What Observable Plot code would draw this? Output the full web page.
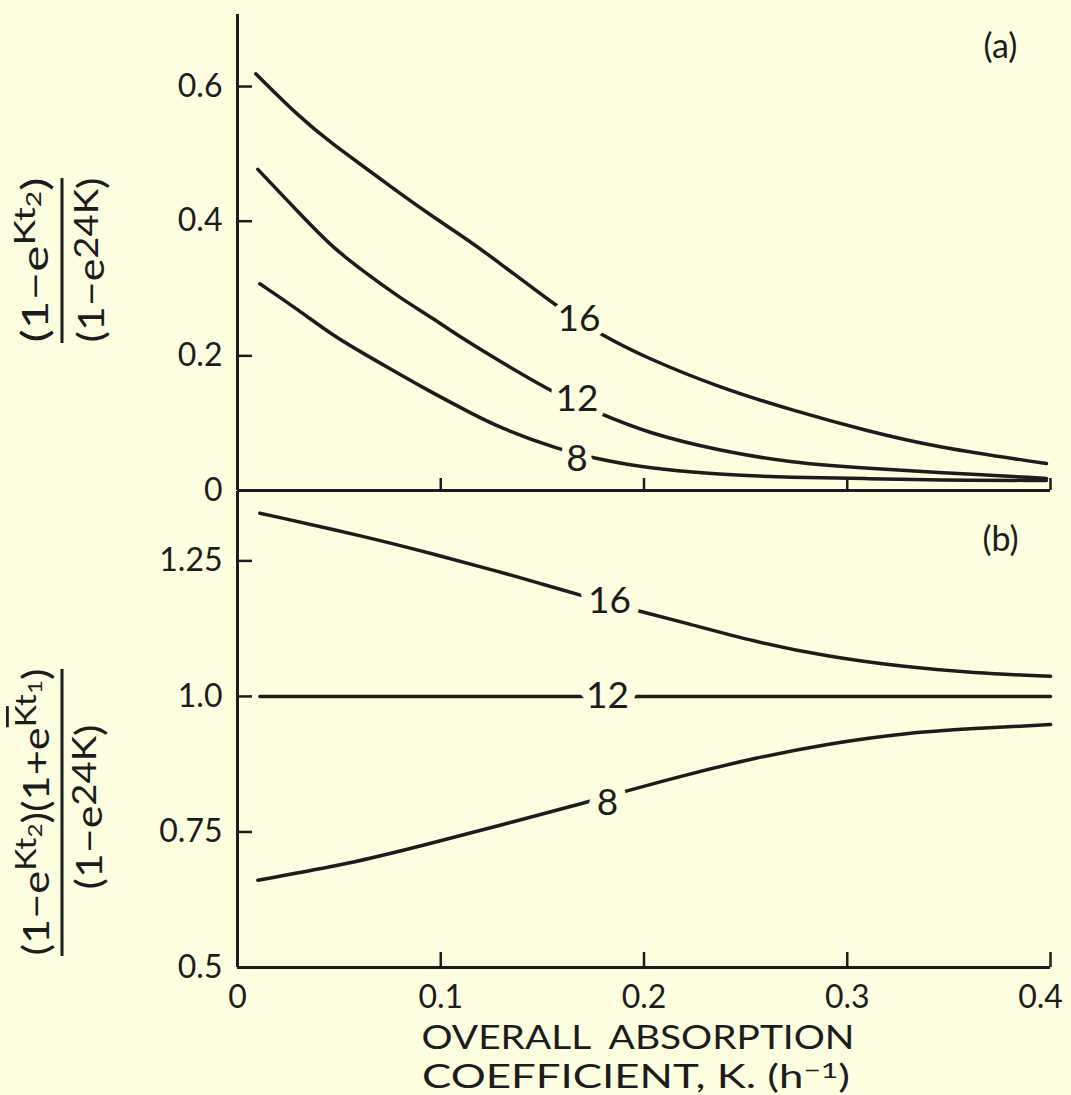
<!DOCTYPE html>
<html>
<head>
<meta charset="utf-8">
<script src="https://cdn.jsdelivr.net/npm/d3@7"></script>
<script src="https://cdn.jsdelivr.net/npm/@observablehq/plot@0.6"></script>
<style>
  html, body { margin: 0; padding: 0; background: #fdfddf; }
  #chart { position: relative; width: 1071px; height: 1095px; background: #fdfddf; overflow: hidden; }
  #chart svg { position: absolute; left: 0; }
</style>
</head>
<body>
<div id="chart"></div>
<script>
// ---------- data ----------
const seriesT = [16, 12, 8];
// panel (a)
const kA16 = [0.009, 0.031, 0.047, 0.064, 0.080, 0.096, 0.113, 0.129, 0.158, 0.178, 0.201, 0.237, 0.273, 0.309, 0.344, 0.398];
const vA16 = [0.619, 0.553, 0.514, 0.477, 0.441, 0.407, 0.373, 0.338, 0.271, 0.233, 0.197, 0.153, 0.119, 0.089, 0.064, 0.040];
const kA12 = [0.010, 0.031, 0.047, 0.064, 0.080, 0.096, 0.110, 0.129, 0.158, 0.177, 0.201, 0.237, 0.273, 0.309, 0.344, 0.398];
const vA12 = [0.477, 0.410, 0.360, 0.321, 0.286, 0.256, 0.227, 0.192, 0.141, 0.116, 0.086, 0.059, 0.041, 0.033, 0.027, 0.018];
const kA8  = [0.011, 0.031, 0.047, 0.064, 0.080, 0.096, 0.113, 0.129, 0.158, 0.174, 0.201, 0.237, 0.273, 0.309, 0.344, 0.398];
const vA8  = [0.307, 0.266, 0.230, 0.200, 0.172, 0.145, 0.118, 0.093, 0.061, 0.049, 0.033, 0.024, 0.019, 0.018, 0.015, 0.015];
// panel (b)
const kB16 = [0.011, 0.064, 0.096, 0.129, 0.150, 0.172, 0.195, 0.219, 0.255, 0.291, 0.327, 0.362, 0.400];
const vB16 = [1.338, 1.294, 1.263, 1.230, 1.207, 1.183, 1.160, 1.137, 1.100, 1.073, 1.055, 1.043, 1.037];
const kB12 = [0.011, 0.100, 0.200, 0.300, 0.400];
const vB12 = [1.000, 1.000, 1.000, 1.000, 1.000];
const kB8  = [0.010, 0.056, 0.090, 0.129, 0.175, 0.187, 0.219, 0.255, 0.291, 0.327, 0.362, 0.400];
const vB8  = [0.661, 0.692, 0.724, 0.762, 0.808, 0.821, 0.854, 0.887, 0.913, 0.932, 0.941, 0.948];
// curve labels
const labelText = ["16", "12", "8"];
const labelKA = [0.168, 0.167, 0.167];
const labelVA = [0.255, 0.135, 0.046];
const labelKB = [0.183, 0.182, 0.182];
const labelVB = [1.175, 1.000, 0.804];
// ticks
const xTicks  = [0, 0.1, 0.2, 0.3, 0.4];
const yTicksA = [0, 0.2, 0.4, 0.6];
const yTicksB = [0.5, 0.75, 1.0, 1.25];
const panelNames = ["(a)", "(b)"];
const xTitle = ["OVERALL\u00a0\u00a0ABSORPTION", "COEFFICIENT,\u00a0K.\u00a0(h", "−1", ")"];

// ---------- build ----------
const bg = "#fdfddf", ink = "#1c1c1c";
const W = 1071, ML = 237, MR = 21, PW = W - ML - MR;
const font = "Lato, 'Open Sans', sans-serif";
const toRows = (list) => list.flatMap(([t, ks, vs]) => ks.map((k, i) => ({t, k, v: vs[i]})));
const rowsA = toRows([[16, kA16, vA16], [12, kA12, vA12], [8, kA8, vA8]]);
const rowsB = toRows([[16, kB16, vB16], [12, kB12, vB12], [8, kB8, vB8]]);
const labA = labelText.map((t, i) => ({t, k: labelKA[i], v: labelVA[i]}));
const labB = labelText.map((t, i) => ({t, k: labelKB[i], v: labelVB[i]}));

const fmtX = d => d === 0 ? "0" : d.toFixed(1);
const fmtA = d => d === 0 ? "0" : d.toFixed(1);
const fmtB = d => d === 1 ? "1.0" : String(d);

const domA = [0, 0.707], hA = 476;
const domB = [0.5, 1.378], hB = 476;
const kTick = 15 * 0.4 / PW;

const styleObj = {background: "transparent", fontFamily: font, color: ink, overflow: "visible"};
const lastX = xTicks[xTicks.length - 1];

const plotA = Plot.plot({
  width: W, height: 491, marginTop: 14, marginBottom: 1, marginLeft: ML, marginRight: MR,
  style: styleObj,
  x: {domain: [0, 0.4], axis: null},
  y: {domain: domA},
  marks: [
    Plot.axisY({ticks: yTicksA, tickSize: 0, tickPadding: 15, tickFormat: fmtA, fontSize: 32, label: null}),
    Plot.ruleY(yTicksA.filter(d => d > 0), {y: d => d, x1: 0, x2: kTick, stroke: ink, strokeWidth: 2.5}),
    Plot.ruleX(xTicks.filter(d => d > 0), {x: d => d, y1: 0, y2: 12 * (domA[1] - domA[0]) / hA, stroke: ink, strokeWidth: 2.5}),
    Plot.ruleX([0], {stroke: ink, strokeWidth: 3}),
    Plot.ruleY([0], {stroke: ink, strokeWidth: 3}),
    Plot.line(rowsA, {x: "k", y: "v", z: "t", stroke: ink, strokeWidth: 3.5, curve: "basis"}),
    Plot.text(labA, {x: "k", y: "v", text: "t", fontSize: 37, fill: ink, stroke: bg, strokeWidth: 14, paintOrder: "stroke"}),
    Plot.text([panelNames[0]], {frameAnchor: "top-right", textAnchor: "middle", lineAnchor: "middle", dx: -50, dy: 33, fontSize: 34, fill: ink})
  ]
});
plotA.style.top = "0px";

const plotB = Plot.plot({
  width: W, height: 605, marginTop: 1, marginBottom: 128, marginLeft: ML, marginRight: MR,
  style: styleObj,
  x: {domain: [0, 0.4]},
  y: {domain: domB},
  marks: [
    Plot.axisY({ticks: yTicksB, tickSize: 0, tickPadding: 15, tickFormat: fmtB, fontSize: 32, label: null}),
    Plot.axisX({ticks: xTicks.filter(d => d < lastX), tickSize: 0, tickPadding: 18, tickFormat: fmtX, fontSize: 32, label: null}),
    Plot.axisX({ticks: [lastX], tickSize: 0, tickPadding: 18, tickFormat: fmtX, fontSize: 32, label: null, dx: -10}),
    Plot.ruleY(yTicksB.filter(d => d > 0.5), {y: d => d, x1: 0, x2: kTick, stroke: ink, strokeWidth: 2.5}),
    Plot.ruleX(xTicks.filter(d => d > 0), {x: d => d, y1: 0.5, y2: 0.5 + 15 * (domB[1] - domB[0]) / hB, stroke: ink, strokeWidth: 2.5}),
    Plot.ruleX([0], {stroke: ink, strokeWidth: 3}),
    Plot.ruleY([0.5], {stroke: ink, strokeWidth: 3}),
    Plot.line(rowsB, {x: "k", y: "v", z: "t", stroke: ink, strokeWidth: 3.5, curve: "basis"}),
    Plot.text(labB, {x: "k", y: "v", text: "t", fontSize: 37, fill: ink, stroke: bg, strokeWidth: 20, paintOrder: "stroke"}),
    Plot.text([panelNames[1]], {frameAnchor: "top-right", textAnchor: "middle", lineAnchor: "middle", dx: -50, dy: 49, fontSize: 34, fill: ink})
  ]
});
plotB.style.top = "490px";

const chart = document.getElementById("chart");
chart.appendChild(plotA);
chart.appendChild(plotB);

// ---------- axis titles (overlay) ----------
const over = d3.select("#chart").append("svg")
  .attr("width", W).attr("height", 1095)
  .style("top", "0px").style("pointer-events", "none")
  .attr("font-family", font).attr("fill", ink);

function rich(x, y, parts, len, rotate, adjust) {
  const t = over.append("text")
    .attr("transform", `translate(${x},${y})` + (rotate ? " rotate(-90)" : ""))
    .attr("text-anchor", "middle");
  let cur = 0;
  for (const [s, size, shift, deco] of parts) {
    const ts = t.append("tspan").attr("font-size", size).attr("dy", shift - cur).text(s);
    if (deco) ts.style("text-decoration", deco);
    cur = shift;
  }
  if (len) t.attr("textLength", len).attr("lengthAdjust", adjust || "spacing");
  return t;
}

// panel (a) y title
rich(48, 260, [["(1−e", 37, 0], ["Kt", 29, -13], ["2", 21, -7], [")", 37, 0]], 165, true, "spacingAndGlyphs");
over.append("line").attr("x1", 62).attr("x2", 62).attr("y1", 178).attr("y2", 343).attr("stroke", ink).attr("stroke-width", 3);
rich(104, 260, [["(1−e", 37, 0], ["24K", 33, -6], [")", 37, 0]], 165, true, "spacingAndGlyphs");

// panel (b) y title
rich(49, 812, [["(1−e", 36, 0], ["Kt", 28, -13], ["2", 20, -7], [")(1+e", 36, 0], ["K", 28, -13, "overline"], ["t", 28, -13], ["1", 20, -7], [")", 36, 0]], 287, true, "spacingAndGlyphs");
over.append("line").attr("x1", 62).attr("x2", 62).attr("y1", 669).attr("y2", 956).attr("stroke", ink).attr("stroke-width", 3);
rich(102, 807, [["(1−e", 37, 0], ["24K", 33, -6], [")", 37, 0]], 165, true, "spacingAndGlyphs");

// x title
rich(638, 1049, [[xTitle[0], 32, 0]], 433, false, "spacingAndGlyphs");
rich(636, 1088, [[xTitle[1], 32, 0], [xTitle[2], 22, -10], [xTitle[3], 32, 0]], 428, false, "spacingAndGlyphs");
</script>
</body>
</html>
